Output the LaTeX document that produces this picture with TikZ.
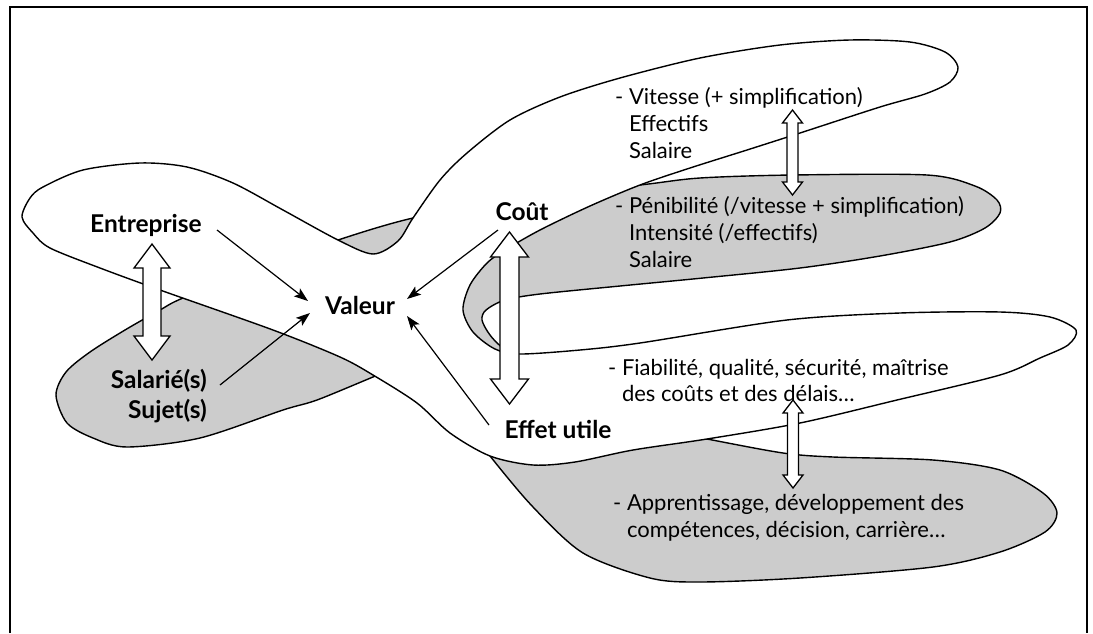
\documentclass[tikz,border=0pt]{standalone}
\usepackage{fontspec}
\setmainfont{Lato}
\usetikzlibrary{arrows.meta}
\definecolor{lobegrey}{RGB}{204,204,204}
% vertical hollow double arrow: x, top tip, bottom tip, shaft half width, head half width, head length
\newcommand\vdouble[6]{%
  \draw[dblarrow] (#1-#4,#2+#6) -- (#1-#5,#2+#6) -- (#1,#2) -- (#1+#5,#2+#6) -- (#1+#4,#2+#6)
    -- (#1+#4,#3-#6) -- (#1+#5,#3-#6) -- (#1,#3) -- (#1-#5,#3-#6) -- (#1-#4,#3-#6) -- cycle;}
\tikzset{
  lobe/.style={draw=black, line width=1.4pt, line join=round},
  dblarrow/.style={draw=black, fill=white, line width=1.3pt, line join=miter},
  conn/.style={line width=1.2pt, -{Stealth[length=14pt,width=10pt,inset=3pt]}},
  lbl/.style={font=\fontsize{24.5}{28}\selectfont\bfseries, inner sep=0pt},
  txt/.style={font=\fontsize{22}{27}\selectfont, inner sep=0pt, anchor=base west},
}
\begin{document}
\begin{tikzpicture}[x=1pt,y=-1pt]
\useasboundingbox (0,0) rectangle (1093,633);
\fill[white] (0,0) rectangle (1093,633);
% open frame
\draw[line width=2.5pt] (10,633) -- (10,7) -- (1087,7) -- (1087,633);

% grey band: Salarie lobe, Penibilite lobe, Apprentissage lobe
\filldraw[lobe, fill=lobegrey] plot[smooth cycle, tension=0.5] coordinates {
  (56,395) (66,372) (90,352) (125,330) (160,310) (183,298) (260,268) (338,240) (413,218)
  (520,198) (640,185) (700,178) (793,175) (927,175) (975,186) (997,200) (1000,213)
  (985,228) (950,242) (880,256) (800,268) (703,278) (620,286) (540,294) (505,300)
  (486,310) (482,320) (490,335) (505,350) (560,395) (650,428) (707,439) (783,453)
  (833,457) (933,460) (1000,470) (1043,493) (1057,513) (1045,532) (1000,552) (933,567)
  (800,578) (700,582) (650,578) (583,553) (533,507) (490,456) (455,410) (400,366)
  (373,377) (317,400) (283,410) (200,438) (127,447) (93,438) (67,423)};

% white band: Entreprise lobe, upper lobe, Fiabilite lobe
\filldraw[lobe, fill=white] plot[smooth cycle, tension=0.5] coordinates {
  (22,217) (30,198) (43,187) (83,170) (140,163) (187,167) (233,183) (283,210) (338,240)
  (373,254) (398,241) (413,218) (440,180) (467,153) (510,120) (560,97) (620,78) (700,58)
  (780,45) (850,40) (910,42) (945,52) (958,67) (950,82) (925,94) (880,107) (800,133)
  (747,150) (690,168) (640,185) (590,206) (540,230) (505,250) (487,263) (470,285)
  (463,310) (473,332) (495,349) (520,354) (580,350) (640,343) (787,320) (900,313)
  (1000,312) (1050,317) (1076,330) (1068,345) (1040,358) (1000,375) (897,400) (800,423)
  (707,439) (633,450) (575,462) (533,465) (490,456) (450,433) (417,403) (373,375)
  (340,357) (273,330) (160,290) (100,268) (50,248) (33,233)};

% hollow double arrows
\vdouble{152}{244}{360}{9}{18}{24}
\vdouble{509.5}{232}{404}{9.5}{19}{25}
\vdouble{792.5}{110}{195}{5.5}{10}{13}
\vdouble{793}{400}{488}{5.5}{10}{13}

% main labels
\node[lbl, anchor=base] (entreprise) at (146,232) {Entreprise};
\node[lbl, anchor=base] (valeur) at (360,314) {Valeur};
\node[lbl, anchor=base] (cout) at (522,220) {Coût};
\node[lbl, anchor=base] (effet) at (558,438) {Effet utile};
\node[lbl, anchor=base east] (salarie) at (207,388) {Salarié(s)};
\node[lbl, anchor=base east] (sujet) at (207,418) {Sujet(s)};

% text blocks
\node[txt] (vit1) at (615,104) {- Vitesse (+ simplification)};
\node[txt] (vit2) at (615,131) {\hphantom{- }Effectifs};
\node[txt] (vit3) at (615,158) {\hphantom{- }Salaire};
\node[txt] (pen1) at (615,213) {- Pénibilité (/vitesse + simplification)};
\node[txt] (pen2) at (615,240) {\hphantom{- }Intensité (/effectifs)};
\node[txt] (pen3) at (615,267) {\hphantom{- }Salaire};
\node[txt] (fia1) at (608,375) {- Fiabilité, qualité, sécurité, maîtrise};
\node[txt] (fia2) at (608,401) {\hphantom{- }des coûts et des délais…};
\node[txt] (app1) at (613,510) {- Apprentissage, développement des};
\node[txt] (app2) at (613,537) {\hphantom{- }compétences, décision, carrière…};

% connectors into Valeur
\coordinate (entA) at (217,230);
\coordinate (valA) at (308,301);
\coordinate (salA) at (220,385);
\coordinate (valB) at (310,313);
\coordinate (coutA) at (498,230);
\coordinate (valC) at (407,299);
\coordinate (effA) at (489,425);
\coordinate (valD) at (407,316);
\draw[conn] (entA) -- (valA);
\draw[conn] (salA) -- (valB);
\draw[conn] (coutA) -- (valC);
\draw[conn] (effA) -- (valD);
\end{tikzpicture}
\end{document}
